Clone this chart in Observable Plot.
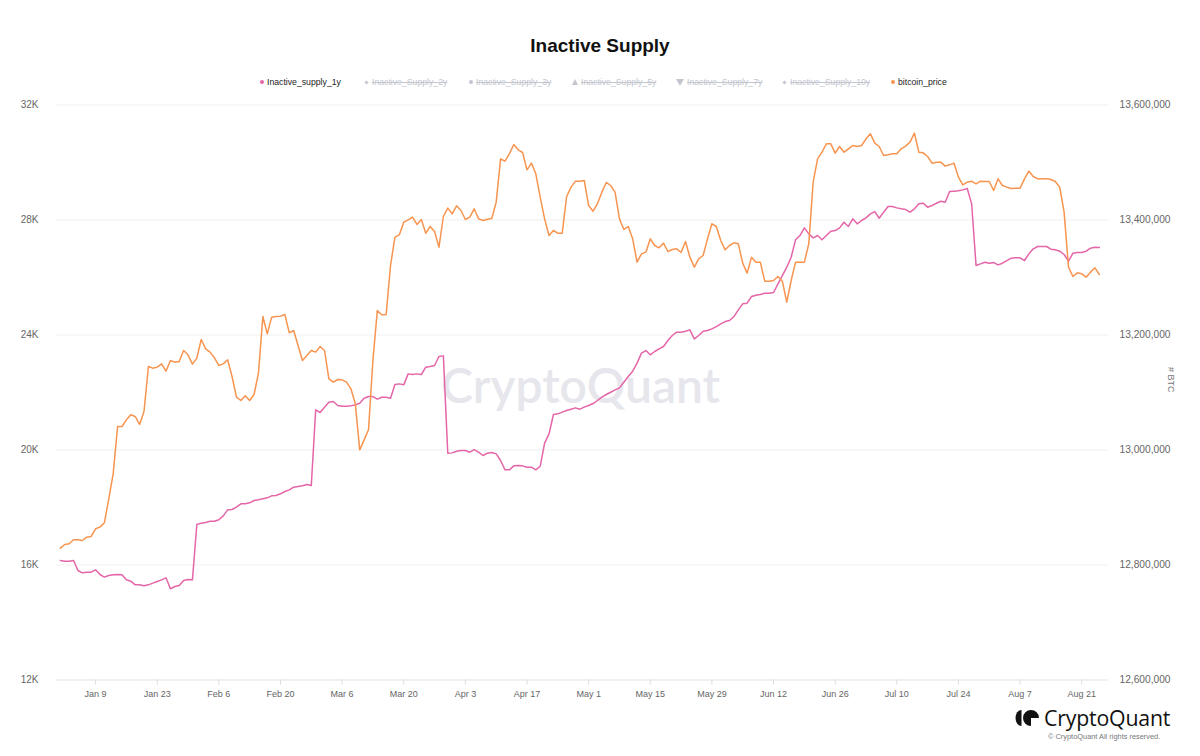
<!DOCTYPE html>
<html>
<head>
<meta charset="utf-8">
<script src="https://cdn.jsdelivr.net/npm/d3@7"></script>
<script src="https://cdn.jsdelivr.net/npm/@observablehq/plot@0.6"></script>
<style>
  body { margin: 0; background: #fff; font-family: "Liberation Sans", Arial, sans-serif; }
  #wrap { position: relative; width: 1200px; height: 756px; overflow: hidden; }
  #header { position: relative; width: 1200px; height: 95px; }
  #title { position: absolute; top: 34px; left: 0; width: 1200px; text-align: center; font-weight: bold; font-size: 19px; color: #111; line-height: 24px; }
  .leg { position: absolute; top: 76px; font-size: 8.7px; line-height: 12px; white-space: nowrap; color: #222; display: flex; align-items: center; }
  .leg.off { color: #c3c6cf; text-decoration: line-through; }
  .mk { display: inline-block; margin-right: 3px; }
  #chart { position: relative; }
  #logo { position: absolute; left: 1014px; top: 703px; display: flex; align-items: center; }
  #logo .word { font-family: "Open Sans", sans-serif; font-size: 21.3px; font-weight: 500; color: #111; margin-left: 5px; letter-spacing: -0.2px; }
  #copy { position: absolute; left: 1048px; top: 732px; font-size: 7.4px; color: #777; white-space: nowrap; }
  #copy span { color: #777; }
</style>
</head>
<body>
<div id="wrap">
  <div id="header">
    <div id="title">Inactive Supply</div>
    <div id="legend"></div>
  </div>
  <div id="chart"></div>
  <div id="logo">
    <svg width="25" height="18" viewBox="0 0 25 18">
      <path d="M7.5 1 A6 8 0 0 0 7.5 17 Z" fill="#111"/>
      <path d="M25 9 A8 8 0 1 0 17 17 L17 9 Z" fill="#111"/>
    </svg>
    <span class="word">CryptoQuant</span>
  </div>
  <div id="copy"><span>© CryptoQuant All rights reserved.</span></div>
</div>
<script>
// ---- data (daily, starting 2023-01-01) ----
const startDate = "2023-01-01";

const bitcoinPrice = [
  16586, 16714, 16737, 16876, 16876, 16853, 16969, 16992, 17259, 17317,
  17467, 18302, 19171, 20818, 20818, 21050, 21224, 21166, 20888, 21340,
  22905, 22847, 22882, 22997, 22742, 23113, 23055, 23079, 23461, 23310,
  22986, 23194, 23844, 23519, 23403, 23206, 22940, 22997, 23137, 22557,
  21838, 21722, 21884, 21722, 21931, 22673, 24644, 24041, 24620, 24644,
  24655, 24713, 24076, 24157, 23635, 23113, 23287, 23461, 23403, 23600,
  23461, 22476, 22360, 22452, 22441, 22360, 22128, 21606, 20006, 20354,
  20702, 23113, 24852, 24702, 24713, 26418, 27403, 27484, 27925, 28006,
  28099, 27844, 28018, 27542, 27774, 27600, 27055, 28122, 28412, 28215,
  28493, 28331, 28018, 28099, 28389, 28041, 27983, 28029, 28052, 28620,
  30128, 30047, 30302, 30626, 30441, 30348, 29745, 29977, 29606, 28794,
  28041, 27461, 27635, 27542, 27542, 28818, 29142, 29351, 29351, 29374,
  28504, 28307, 28562, 28968, 29305, 29200, 28968, 28041, 27670, 27774,
  27345, 26534, 26823, 26881, 27345, 27113, 27032, 27195, 26905, 26974,
  26997, 26870, 27252, 26707, 26360, 26650, 26765, 27345, 27867, 27774,
  27287, 26963, 27113, 27206, 27171, 26499, 26151, 26707, 26534, 26534,
  25873, 25873, 25896, 26035, 25873, 25142, 25896, 26534, 26534, 26534,
  27171, 29316, 30128, 30359, 30649, 30649, 30325, 30557, 30359, 30475,
  30591, 30557, 30591, 30823, 30997, 30673, 30557, 30244, 30267, 30302,
  30302, 30475, 30568, 30707, 31020, 30359, 30336, 30209, 29977, 30012,
  30012, 29873, 29919, 29977, 29490, 29223, 29316, 29351, 29258, 29351,
  29339, 29339, 29026, 29432, 29200, 29142, 29096, 29107, 29107, 29432,
  29699, 29513, 29432, 29432, 29432, 29409, 29339, 29142, 28273, 26360,
  26035, 26163, 26128, 26012, 26186, 26337, 26105
];

const inactiveSupply1y = [
  12807800, 12806700, 12806700, 12807800, 12790400, 12786400, 12787500, 12787500, 12791600, 12783500,
  12778900, 12781800, 12782900, 12783500, 12782900, 12774200, 12771900, 12765500, 12765500, 12763800,
  12765500, 12768400, 12771300, 12774200, 12777700, 12758600, 12762600, 12764400, 12773100, 12774800,
  12774200, 12870400, 12872800, 12873900, 12876200, 12876200, 12878600, 12885500, 12895900, 12896500,
  12900600, 12906400, 12906400, 12908100, 12912200, 12913300, 12915100, 12916800, 12920300, 12920900,
  12923800, 12927800, 12930700, 12935300, 12936500, 12937700, 12940000, 12938300, 13069800, 13065200,
  13074500, 13083200, 13084300, 13077400, 13076200, 13076200, 13076800, 13078500, 13081400, 13090100,
  13093000, 13093000, 13088400, 13091800, 13091800, 13090100, 13113900, 13115000, 13113300, 13132400,
  13131300, 13132400, 13131300, 13144000, 13145200, 13146900, 13162600, 13163700, 12994500, 12995000,
  12997900, 12999100, 12999100, 12996200, 13000800, 12996200, 12990400, 12994500, 12995600, 12993300,
  12981700, 12965500, 12965500, 12972400, 12973000, 12972400, 12970100, 12970100, 12965500, 12971800,
  13011900, 13028100, 13061700, 13062900, 13065800, 13068700, 13071000, 13073300, 13071000, 13074500,
  13077400, 13080800, 13086100, 13091800, 13096500, 13100500, 13104600, 13108100, 13117900, 13127800,
  13137100, 13151000, 13168400, 13173000, 13165500, 13171300, 13175900, 13180000, 13190400, 13199100,
  13204900, 13204900, 13206600, 13208900, 13193300, 13199100, 13206600, 13207800, 13210700, 13214700,
  13219400, 13223400, 13225200, 13232100, 13243700, 13254200, 13255300, 13266900, 13269200, 13270400,
  13272700, 13272700, 13273900, 13288900, 13303400, 13317900, 13335300, 13365500, 13373000, 13386300,
  13375900, 13368900, 13373000, 13365500, 13373000, 13380500, 13381700, 13386300, 13396200, 13388700,
  13402000, 13393300, 13399100, 13403700, 13410700, 13414700, 13403100, 13413600, 13423400, 13423400,
  13421100, 13419400, 13418200, 13413600, 13419400, 13428100, 13429200, 13422300, 13425200, 13429200,
  13432700, 13431000, 13449500, 13450100, 13450700, 13452400, 13454700, 13428100, 13320800, 13323700,
  13326600, 13324900, 13326000, 13322000, 13324900, 13329500, 13333600, 13334200, 13334200, 13329500,
  13341100, 13349800, 13353900, 13353900, 13353900, 13349200, 13348100, 13345800, 13340000, 13328400,
  13342300, 13343400, 13343400, 13345800, 13351000, 13352700, 13352100
];

const leftTicks = [12000, 16000, 20000, 24000, 28000, 32000];
const rightTicks = [12600000, 12800000, 13000000, 13200000, 13400000, 13600000];
const xTickDates = ["2023-01-09", "2023-01-23", "2023-02-06", "2023-02-20", "2023-03-06", "2023-03-20",
  "2023-04-03", "2023-04-17", "2023-05-01", "2023-05-15", "2023-05-29", "2023-06-12",
  "2023-06-26", "2023-07-10", "2023-07-24", "2023-08-07", "2023-08-21"];

const legendItems = [
  {name: "Inactive_supply_1y", on: true, color: "#e466a8", shape: "dot", left: 260},
  {name: "Inactive_Supply_2y", on: false, color: "#c3c6cf", shape: "diamond", left: 364},
  {name: "Inactive_Supply_3y", on: false, color: "#c3c6cf", shape: "dot", left: 469},
  {name: "Inactive_Supply_5y", on: false, color: "#c3c6cf", shape: "up", left: 572},
  {name: "Inactive_Supply_7y", on: false, color: "#c3c6cf", shape: "down", left: 676},
  {name: "Inactive_Supply_10y", on: false, color: "#c3c6cf", shape: "diamond", left: 782},
  {name: "bitcoin_price", on: true, color: "#f7944f", shape: "dot", left: 891}
];

// ---- scales: right axis (#BTC) mapped onto left axis (USD) ----
const yLo = 12000, yHi = 32000, sLo = 12600000, sHi = 13600000;
const supplyToY = s => yLo + (s - sLo) * (yHi - yLo) / (sHi - sLo);

const t0 = d3.utcParse("%Y-%m-%d")(startDate);
const data = bitcoinPrice.map((p, i) => ({
  date: d3.utcDay.offset(t0, i),
  price: p,
  supply: inactiveSupply1y[i]
}));

// ---- legend ----
const legend = document.getElementById("legend");
for (const it of legendItems) {
  const el = document.createElement("div");
  el.className = "leg" + (it.on ? "" : " off");
  el.style.left = it.left + "px";
  const mk = document.createElement("span");
  mk.className = "mk";
  if (it.shape === "dot") {
    mk.style.cssText = `width:4px;height:4px;border-radius:50%;background:${it.color};`;
  } else if (it.shape === "diamond") {
    mk.style.cssText = `width:3px;height:3px;background:${it.color};transform:rotate(45deg);margin-right:4px;margin-left:1px;`;
  } else if (it.shape === "up") {
    mk.style.cssText = `width:0;height:0;border-left:3.5px solid transparent;border-right:3.5px solid transparent;border-bottom:6px solid ${it.color};`;
  } else {
    mk.style.cssText = `width:0;height:0;border-left:4px solid transparent;border-right:4px solid transparent;border-top:7px solid ${it.color};`;
  }
  el.appendChild(mk);
  const tx = document.createElement("span");
  tx.textContent = it.name;
  el.appendChild(tx);
  legend.appendChild(el);
}

// ---- chart ----
const orange = "#f7944f", pink = "#e466a8";
const fmtComma = d3.format(",");
const chart = Plot.plot({
  width: 1200,
  height: 661,
  marginTop: 9.5,
  marginBottom: 76.5,
  marginLeft: 56,
  marginRight: 92,
  style: {fontFamily: "'Liberation Sans', Arial, sans-serif", background: "#fff"},
  x: {type: "utc", domain: [new Date(Date.UTC(2022, 11, 31, 3)), new Date(Date.UTC(2023, 7, 27, 2))]},
  y: {domain: [yLo, yHi]},
  marks: [
    Plot.gridY(leftTicks.slice(1), {stroke: "#efefef", strokeOpacity: 1, strokeWidth: 1}),
    Plot.ruleY([yLo], {stroke: "#e3e3e3"}),
    Plot.text(["CryptoQuant"], {frameAnchor: "middle", dx: -2, dy: -5, fontSize: 48, fontFamily: "Lato, 'Open Sans', sans-serif", fontWeight: 600, fill: "#e6e6ec"}),
    Plot.lineY(data, {x: "date", y: d => supplyToY(d.supply), stroke: pink, strokeWidth: 1.5, curve: "linear"}),
    Plot.lineY(data, {x: "date", y: "price", stroke: orange, strokeWidth: 1.5, curve: "linear"}),
    Plot.axisY({anchor: "left", ticks: leftTicks, tickFormat: d => d / 1000 + "K", tickSize: 0, tickPadding: 18, fontSize: 10, color: "#666", label: null}),
    Plot.axisY({anchor: "right", ticks: rightTicks.map(supplyToY), tickFormat: v => fmtComma(Math.round(sLo + (v - yLo) * (sHi - sLo) / (yHi - yLo))), tickSize: 0, tickPadding: 11, fontSize: 10.2, color: "#666", label: null}),
    Plot.text(["# BTC"], {frameAnchor: "right", dx: 62, rotate: 90, fontSize: 9, fill: "#777"}),
    Plot.axisX({ticks: xTickDates.map(d3.utcParse("%Y-%m-%d")), tickFormat: d3.utcFormat("%b %-d"), tickSize: 5, tickPadding: 6, stroke: "#dcdcdc", color: "#666", fontSize: 9, label: null})
  ]
});
document.getElementById("chart").appendChild(chart);
</script>
</body>
</html>
